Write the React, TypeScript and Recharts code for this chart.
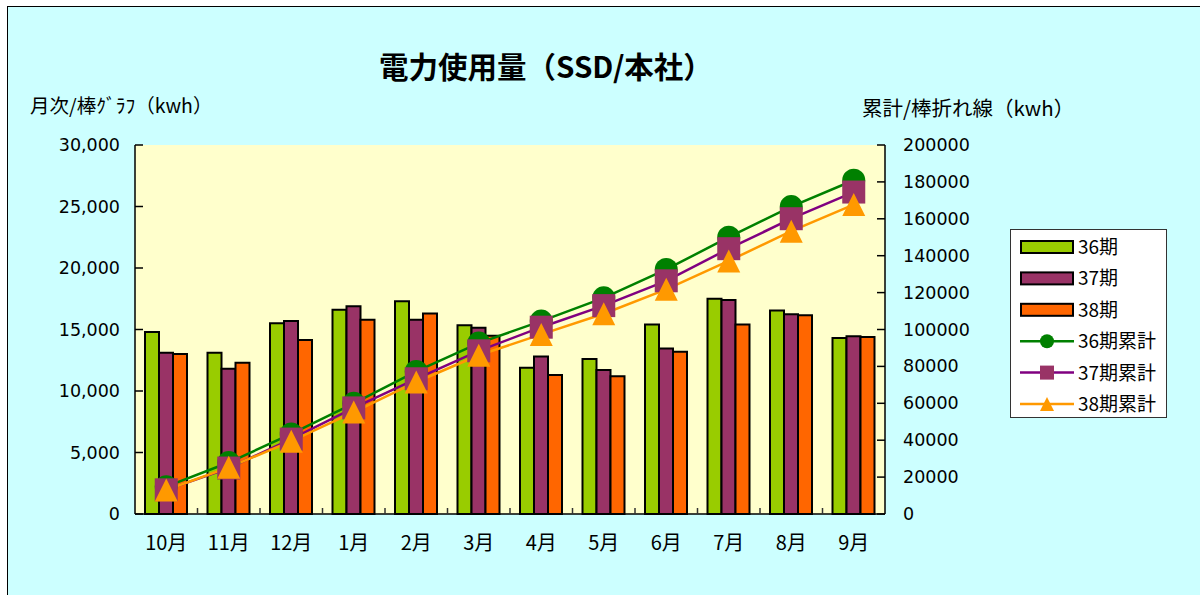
import React from "react";
import {
  ComposedChart,
  CartesianGrid,
  XAxis,
  YAxis,
  Bar,
  Line,
  Legend,
} from "recharts";

// 月 (10月始まり)
const months = ["10月", "11月", "12月", "1月", "2月", "3月", "4月", "5月", "6月", "7月", "8月", "9月"];

// 月次使用量 (kwh)
const monthly36 = [14800, 13100, 15500, 16600, 17300, 15350, 11900, 12600, 15400, 17500, 16550, 14300];
const monthly37 = [13100, 11800, 15700, 16900, 15800, 15150, 12800, 11700, 13450, 17400, 16250, 14450];
const monthly38 = [13000, 12300, 14150, 15800, 16300, 14500, 11300, 11200, 13200, 15400, 16150, 14400];

// 累計 (kwh)
const total36 = [14800, 27900, 43400, 60000, 77300, 92650, 104550, 117150, 132550, 150050, 166600, 180900];
const total37 = [13100, 24900, 40600, 57500, 73300, 88450, 101250, 112950, 126400, 143800, 160050, 174500];
const total38 = [13000, 25300, 39450, 55250, 71550, 86050, 97350, 108550, 121750, 137150, 153300, 167700];

const leftTicks = [0, 5000, 10000, 15000, 20000, 25000, 30000];
const rightTicks = [0, 20000, 40000, 60000, 80000, 100000, 120000, 140000, 160000, 180000, 200000];

const barSeries = [
  { key: "m36", name: "36期", color: "#99CC00" },
  { key: "m37", name: "37期", color: "#993366" },
  { key: "m38", name: "38期", color: "#FF6600" },
];

const lineSeries = [
  { key: "c36", name: "36期累計", color: "#008000", marker: "#008000", shape: "circle" },
  { key: "c37", name: "37期累計", color: "#800080", marker: "#993366", shape: "square" },
  { key: "c38", name: "38期累計", color: "#FF9900", marker: "#FF9900", shape: "triangle" },
];

const data = months.map((month, i) => ({
  month,
  m36: monthly36[i],
  m37: monthly37[i],
  m38: monthly38[i],
  c36: total36[i],
  c37: total37[i],
  c38: total38[i],
}));

const CJK = '"Noto Sans CJK JP", "Noto Sans", sans-serif';
const NUM = '"DejaVu Sans", sans-serif';

const CHART_W = 1192;
const CHART_H = 588;
const MARGIN = { top: 138, right: 215, bottom: 51, left: 0 };
const LEFT_AXIS_W = 127;
const RIGHT_AXIS_W = 100;
const X_AXIS_H = 30;
const PLOT_LEFT = MARGIN.left + LEFT_AXIS_W;
const PLOT_RIGHT = CHART_W - MARGIN.right - RIGHT_AXIS_W;
const PLOT_BOTTOM = CHART_H - MARGIN.bottom - X_AXIS_H;
const BAND = (PLOT_RIGHT - PLOT_LEFT) / months.length;

const Marker = ({ shape, cx, cy, size, fill }: any) => {
  const h = size / 2;
  if (shape === "circle") return <circle cx={cx} cy={cy} r={h} fill={fill} />;
  if (shape === "square")
    return <rect x={cx - h} y={cy - h} width={size} height={size} fill={fill} />;
  return (
    <polygon
      points={`${cx},${cy - h} ${cx - h},${cy + h} ${cx + h},${cy + h}`}
      fill={fill}
    />
  );
};

// 目盛線は内向き (Excel風)
const XTick = (props: any) => {
  const { x, payload, index } = props;
  return (
    <g>
      {index < months.length - 1 && (
        <line
          x1={x + BAND / 2}
          x2={x + BAND / 2}
          y1={PLOT_BOTTOM - 6}
          y2={PLOT_BOTTOM}
          stroke="#333"
          strokeWidth={1.5}
        />
      )}
      <text x={x} y={PLOT_BOTTOM + 36} textAnchor="middle" fontSize={20} fontFamily={CJK} fill="#000">
        {payload.value}
      </text>
    </g>
  );
};

const LeftTick = (props: any) => {
  const { y, payload } = props;
  return (
    <g>
      <line x1={PLOT_LEFT} x2={PLOT_LEFT + 8} y1={y} y2={y} stroke="#000" strokeWidth={1.5} />
      <text x={PLOT_LEFT - 15} y={y + 6} textAnchor="end" fontSize={17.5} fontFamily={NUM} fill="#000">
        {payload.value.toLocaleString("en-US")}
      </text>
    </g>
  );
};

const RightTick = (props: any) => {
  const { y, payload } = props;
  return (
    <g>
      <line x1={PLOT_RIGHT - 8} x2={PLOT_RIGHT} y1={y} y2={y} stroke="#000" strokeWidth={1.5} />
      <text x={PLOT_RIGHT + 18} y={y + 6} textAnchor="start" fontSize={17.5} fontFamily={NUM} fill="#000">
        {String(payload.value)}
      </text>
    </g>
  );
};

const LegendBox = () => {
  const rowY = (i: number) => 17 + i * 31.4;
  return (
    <div
      style={{
        width: 157,
        height: 189,
        boxSizing: "border-box",
        background: "#fff",
        border: "1.5px solid #333",
      }}
    >
      <svg width={154} height={186} style={{ display: "block" }}>
        {barSeries.map((s, i) => (
          <g key={s.key}>
            <rect x={10} y={rowY(i) - 6} width={52} height={12} fill={s.color} stroke="#000" strokeWidth={2} />
            <text x={67} y={rowY(i) + 7} fontSize={19} fontFamily={CJK} fill="#000">
              {s.name}
            </text>
          </g>
        ))}
        {lineSeries.map((s, j) => {
          const i = j + 3;
          return (
            <g key={s.key}>
              <line x1={9} x2={63} y1={rowY(i)} y2={rowY(i)} stroke={s.color} strokeWidth={2.5} />
              <Marker shape={s.shape} cx={36} cy={rowY(i)} size={14} fill={s.marker} />
              <text x={67} y={rowY(i) + 7} fontSize={19} fontFamily={CJK} fill="#000">
                {s.name}
              </text>
            </g>
          );
        })}
      </svg>
    </div>
  );
};

export default function App() {
  return (
    <div
      style={{
        position: "absolute",
        left: 7,
        top: 6,
        width: CHART_W + 1,
        height: CHART_H + 1,
        boxSizing: "border-box",
        borderLeft: "1px solid #000",
        borderTop: "1px solid #000",
        background: "#CCFFFF",
      }}
    >
      <ComposedChart width={CHART_W} height={CHART_H} data={data} margin={MARGIN} barGap={0}>
        <CartesianGrid yAxisId="left" horizontal={false} vertical={false} fill="#FFFFCC" />
        <XAxis
          dataKey="month"
          height={X_AXIS_H}
          interval={0}
          tickSize={0}
          tickMargin={0}
          tickLine={false}
          axisLine={{ stroke: "#000", strokeWidth: 1.5 }}
          tick={XTick}
        />
        <XAxis
          xAxisId="top"
          dataKey="month"
          orientation="top"
          height={0}
          tick={false}
          tickLine={false}
          axisLine={{ stroke: "#000", strokeWidth: 1.5 }}
        />
        <YAxis
          yAxisId="left"
          width={LEFT_AXIS_W}
          domain={[0, 30000]}
          ticks={leftTicks}
          interval={0}
          tickSize={0}
          tickMargin={0}
          tickLine={false}
          axisLine={{ stroke: "#000", strokeWidth: 1.5 }}
          tick={LeftTick}
        />
        <YAxis
          yAxisId="right"
          orientation="right"
          width={RIGHT_AXIS_W}
          domain={[0, 200000]}
          ticks={rightTicks}
          interval={0}
          tickSize={0}
          tickMargin={0}
          tickLine={false}
          axisLine={{ stroke: "#000", strokeWidth: 1.5 }}
          tick={RightTick}
        />
        {barSeries.map((s) => (
          <Bar
            key={s.key}
            yAxisId="left"
            dataKey={s.key}
            name={s.name}
            fill={s.color}
            stroke="#000"
            strokeWidth={2}
            barSize={14}
            isAnimationActive={false}
          />
        ))}
        {lineSeries.map((s) => (
          <Line
            key={s.key}
            yAxisId="right"
            type="linear"
            dataKey={s.key}
            name={s.name}
            stroke={s.color}
            strokeWidth={2.5}
            activeDot={false}
            dot={(p: any) => (
              <Marker key={`${s.key}-${p.index}`} shape={s.shape} cx={p.cx} cy={p.cy} size={23} fill={s.marker} />
            )}
            isAnimationActive={false}
          />
        ))}
        <Legend
          layout="horizontal"
          verticalAlign="middle"
          align="center"
          wrapperStyle={{ left: 1002, top: 222, width: 157, height: 189 }}
          content={() => <LegendBox />}
        />
      </ComposedChart>
      <svg
        width={CHART_W}
        height={CHART_H}
        style={{ position: "absolute", left: 0, top: 0, pointerEvents: "none" }}
      >
        <text x={538} y={71} textAnchor="middle" fontSize={29.5} fontWeight="bold" fontFamily={CJK} fill="#000">
          電力使用量（SSD/本社）
        </text>
        <text x={22} y={106} fontSize={19.5} fontFamily={CJK} fill="#000">
          月次/棒ｸﾞﾗﾌ（kwh）
        </text>
        <text x={854} y={109} fontSize={20.5} fontFamily={CJK} fill="#000">
          累計/棒折れ線（kwh）
        </text>
      </svg>
    </div>
  );
}
